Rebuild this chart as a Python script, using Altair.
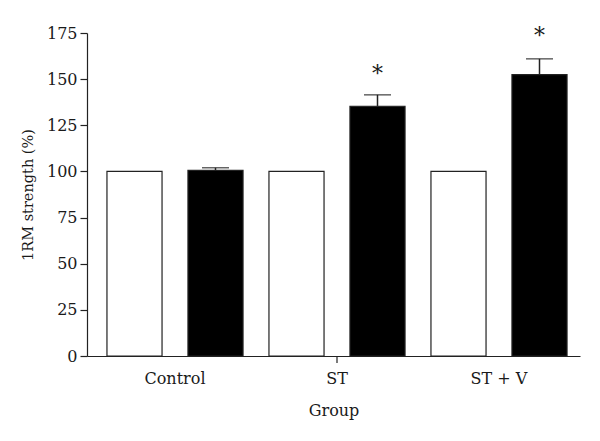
import altair as alt
import pandas as pd

groups = ["Control", "Control", "ST", "ST", "ST + V", "ST + V"]
series = ["Before", "After", "Before", "After", "Before", "After"]
values = [100, 100.6, 100, 135.3, 100, 152.4]
err_top = [None, 102.0, None, 141.5, None, 161.0]
star_y = [None, None, None, 155.5, None, 176.0]
stars = ["", "", "", "*", "", "*"]
x_ticks = ["ST"]

df = pd.DataFrame({"group": groups, "series": series, "value": values,
                   "err": err_top, "star_y": star_y, "star": stars})
tick_df = pd.DataFrame({"group": x_ticks})

FONT = "DejaVu Serif"
TXT = "#1a1a1a"
order = ["Control", "ST", "ST + V"]
sorder = ["Before", "After"]

x = alt.X("group:N", sort=order, title="Group",
          scale=alt.Scale(paddingInner=0, paddingOuter=0.0216, align=1),
          axis=alt.Axis(labelAngle=0, ticks=False, domainColor="#222", domainWidth=1.2,
                        labelFont=FONT, labelFontSize=16, labelColor=TXT,
                        titleFont=FONT, titleFontSize=16, titleColor=TXT,
                        titleFontWeight="normal", labelPadding=14, titlePadding=16))
xo = alt.XOffset("series:N", sort=sorder,
                 scale=alt.Scale(paddingInner=0.32, paddingOuter=0.16))
y = alt.Y("value:Q", title="1RM strength (%)",
          scale=alt.Scale(domain=[0, 175], nice=False),
          axis=alt.Axis(values=list(range(0, 176, 25)), grid=False,
                        domainColor="#222", tickColor="#222", tickSize=7,
                        domainWidth=1.2, tickWidth=1.2,
                        labelFont=FONT, labelFontSize=16, labelColor=TXT,
                        titleFont=FONT, titleFontSize=14.5, titleColor=TXT,
                        titleFontWeight="normal", labelPadding=3, titlePadding=11))

color = alt.Color("series:N", sort=sorder,
                  scale=alt.Scale(domain=sorder, range=["white", "black"]),
                  legend=None)

bars = alt.Chart(df).mark_bar(stroke="#222", strokeWidth=1.2).encode(
    x=x, xOffset=xo, y=y, color=color)

errdf = alt.Chart(df).transform_filter("datum.err != null")
stem = errdf.mark_rule(color="#222", strokeWidth=1.5).encode(
    x=alt.X("group:N", sort=order), xOffset=xo,
    y="value:Q", y2="err:Q")
cap = errdf.mark_tick(color="#222", thickness=1.5, size=27).encode(
    x=alt.X("group:N", sort=order), xOffset=xo, y="err:Q")
star = alt.Chart(df).transform_filter("datum.star != ''").mark_text(
    font=FONT, fontSize=22, color=TXT, baseline="middle", dy=5).encode(
    x=alt.X("group:N", sort=order), xOffset=xo, y="star_y:Q", text="star:N")
xtick = alt.Chart(tick_df).mark_rule(color="#222", strokeWidth=1.2).encode(
    x=alt.X("group:N", sort=order, bandPosition=0.5),
    y=alt.value(323), y2=alt.value(330))

chart = alt.layer(bars, stem, cap, star, xtick).properties(
    width=493, height=323, background="white",
    autosize=alt.AutoSizeParams(type="none"),
    padding={"left": 79, "top": 25, "right": 12, "bottom": 70}
).configure_view(stroke=None)

chart.save("out.html", embed_options={"renderer": "svg", "actions": False})
